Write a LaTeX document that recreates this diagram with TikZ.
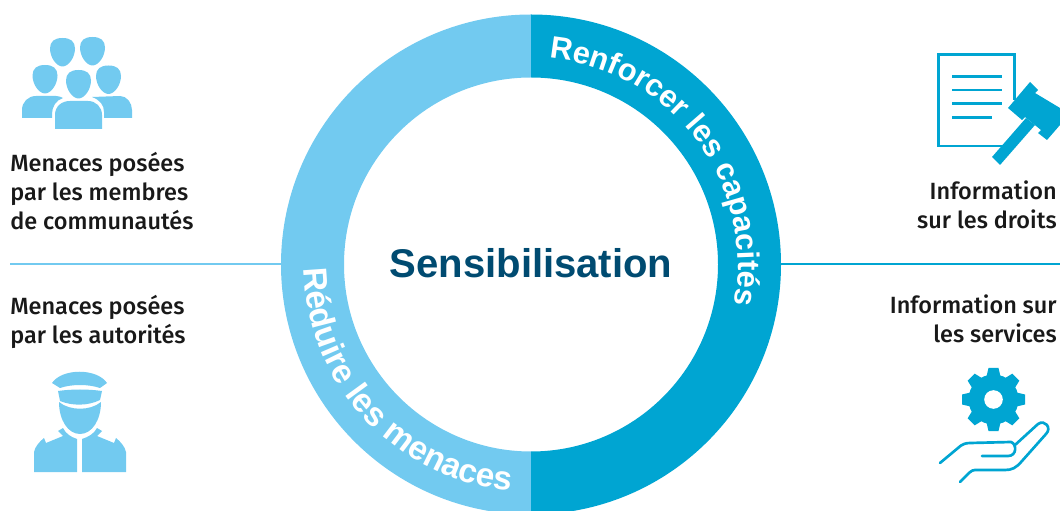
\documentclass[tikz,border=0pt]{standalone}
\usepackage{fontspec}
\setmainfont{Fira Sans Medium}
\usetikzlibrary{decorations.text}
\definecolor{lightblue}{HTML}{72CAF0}
\definecolor{darkblue}{HTML}{00A5D2}
\definecolor{navy}{HTML}{004B71}
\newfontfamily\boldfont{Liberation Sans Bold}
\newfontfamily\labelfont{Fira Sans Medium}
\newcommand{\ringfont}{\color{white}\boldfont\fontsize{22}{22}\selectfont}
\newcommand{\ringfontb}{\color{white}\boldfont\fontsize{23.8}{24}\selectfont}
\tikzset{
    caption/.style = {font = \labelfont\fontsize{16.7}{20.5}\selectfont, text = black!90, inner sep = 0pt},
    rule/.style = {line width = 1.4pt},
    iconlight/.style = {fill = lightblue, draw = none},
    icondark/.style = {fill = darkblue, draw = none},
    iconline/.style = {draw = darkblue, line width = 1.9pt}
}
\begin{document}
\begin{tikzpicture}[x = 0.025cm, y = -0.025cm]
    \useasboundingbox (0,0) rectangle (1060,511);
    % ring, y goes up inside this scope
    \begin{scope}[shift = {(531,264.5)}, yscale = -1]
        \fill[lightblue] (90:250) arc[start angle = 90, end angle = 270, radius = 250]
            -- (270:187) arc[start angle = 270, end angle = 90, radius = 187] -- cycle;
        \fill[darkblue] (90:250) arc[start angle = 90, end angle = -90, radius = 250]
            -- (-90:187) arc[start angle = -90, end angle = 90, radius = 187] -- cycle;
        \path[decorate, decoration = {text along path, text align = left,
            text = {|\ringfont|Renforcer les capacités}}]
            (85:207) arc[start angle = 85, end angle = -30, radius = 207];
        \path[decorate, decoration = {text along path, text align = left,
            text = {|\ringfontb|Réduire les menaces}}]
            (181:227) arc[start angle = 181, end angle = 300, radius = 227];
    \end{scope}
    \coordinate (ringleft) at (281,264);
    \coordinate (ringright) at (781,264);
    \coordinate (ruleleft) at (10,264);
    \coordinate (ruleright) at (1060,264);
    \draw[rule, lightblue] (ruleleft) -- (ringleft);
    \draw[rule, darkblue] (ringright) -- (ruleright);
    \node[font = \boldfont\fontsize{28.5}{29}\selectfont, text = navy, inner sep = 0pt] (centre) at (531,263) {Sensibilisation};
    % captions
    \node[caption, anchor = north west, align = left] (membres) at (10,152) {Menaces posées\\par les membres\\de communautés};
    \node[caption, anchor = north west, align = left] (autorites) at (10,295) {Menaces posées\\par les autorités};
    \node[caption, anchor = north east, align = right] (droits) at (1057,181) {Information\\sur les droits};
    \node[caption, anchor = north east, align = right] (services) at (1057,295) {Information sur\\les services};
    % people
    \foreach \hx/\hy in {62.5/50.5, 92.5/49.5, 45/77.5, 108.5/78, 78.5/82.5} {
        \fill[iconlight] (\hx,\hy-12.5) .. controls (\hx+8,\hy-12.5) and (\hx+12.5,\hy-9) .. (\hx+12.5,\hy-2)
            .. controls (\hx+12.5,\hy+7) and (\hx+6,\hy+16) .. (\hx,\hy+16)
            .. controls (\hx-6,\hy+16) and (\hx-12.5,\hy+7) .. (\hx-12.5,\hy-2)
            .. controls (\hx-12.5,\hy-9) and (\hx-8,\hy-12.5) .. (\hx,\hy-12.5) -- cycle;
    }
    \fill[iconlight] (22,118) -- (22,110) .. controls (22,102) and (28,96) .. (36,96) -- (56,96)
        .. controls (59,96) and (61,97) .. (63,98) .. controls (56,100) and (52,107) .. (52,114) -- (52,118) -- cycle;
    \fill[iconlight] (104,118) -- (104,112) .. controls (104,105) and (100,100) .. (92,97) -- (120,96)
        .. controls (127,96) and (132,103) .. (132,110) -- (132,118) -- cycle;
    \fill[iconlight] (55,129) -- (55,115) .. controls (55,106) and (62,101) .. (70,101) -- (88,101)
        .. controls (96,101) and (102,107) .. (102,115) -- (102,129) -- cycle;
    % officer
    \fill[iconlight] (52,383) .. controls (62,368) and (97,368) .. (107,383) -- (100,388)
        .. controls (88,384) and (72,384) .. (60,388) -- cycle;
    \fill[iconlight] (58,391) .. controls (72,389) and (88,389) .. (102,391) -- (100,400)
        .. controls (88,406) and (72,406) .. (60,401) -- cycle;
    \fill[iconlight] (59,402) .. controls (70,411) and (90,411) .. (101,402)
        .. controls (101,420) and (92,434) .. (80,434) .. controls (68,434) and (59,420) .. (59,402) -- cycle;
    \fill[iconlight] (34,472) -- (34,452) .. controls (35,447) and (39,442) .. (44,438) -- (46,443) -- (63,436) -- (58,431) -- (63,428)
        .. controls (66,434) and (71,437) .. (77,439) -- (77,472) -- cycle;
    \fill[iconlight] (126,472) -- (126,452) .. controls (125,447) and (121,442) .. (116,438) -- (114,443) -- (97,436) -- (102,431) -- (97,428)
        .. controls (94,434) and (88,437) .. (82,439) -- (82,472) -- cycle;
    % document and gavel
    \draw[iconline] (1014.5,100) -- (1014.5,54.5) -- (938.5,54.5) -- (938.5,146) -- (1003,146);
    \foreach \ly/\lx in {76.7/1002, 90/1002, 103.3/1002, 117.3/992} {
        \draw[iconline] (952,\ly) -- (\lx,\ly);
    }
    \fill[icondark] (1030,82) -- (1038,90) -- (1035,93) -- (1060,108) -- (1060,125) -- (1047,140) -- (1038,133) -- (1041,130)
        -- (1025,117) -- (1022,120) -- (1008,108) -- cycle;
    \fill[icondark] (1026,118) -- (1035,125) -- (1000,165) -- (992,157) -- cycle;
    % gear and hand
    \begin{scope}[shift = {(993.5,399.5)}]
        \fill[icondark] (0,0) circle[radius = 25];
        \foreach \a in {0,45,...,315} {
            \fill[icondark, rotate = \a] (-7,23) -- (-5,31.5) -- (5,31.5) -- (7,23) -- cycle;
        }
        \fill[white] (0,0) circle[radius = 9.3];
    \end{scope}
    \draw[iconline, line cap = round, line join = round]
        (940,463) -- (958,448) .. controls (962,444) and (966,443) .. (970,443) -- (1011,442)
        .. controls (1017,444) and (1017,456) .. (1008,456) -- (982,456);
    \draw[iconline, line cap = round, line join = round]
        (1015,445) -- (1038,424) .. controls (1045,419) and (1052,428) .. (1046,434) -- (1022,461)
        .. controls (1016,468) and (1012,470) .. (1005,470) -- (975,470) .. controls (971,470) and (969,473) .. (960,482);
\end{tikzpicture}
\end{document}
